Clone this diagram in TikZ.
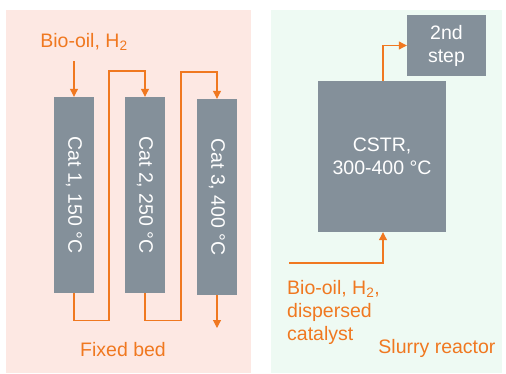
\documentclass[tikz,border=0pt]{standalone}
\usepackage{fontspec}
\setmainfont{Liberation Sans}
\usepackage{xcolor}
\usepackage{tikz}
\usetikzlibrary{arrows.meta,positioning,calc}
\definecolor{bedbg}{HTML}{FDE8E3}
\definecolor{slurrybg}{HTML}{EEFAF3}
\definecolor{reactgray}{HTML}{84909A}
\definecolor{flowor}{HTML}{F07820}
\tikzset{
  % reactor boxes
  reactor/.style={draw=none,fill=reactgray,text=white,inner sep=0pt,align=center},
  % flow lines
  flow/.style={flowor,line width=1.1pt,-{Triangle[length=8pt,width=8pt]}},
  flowplain/.style={flowor,line width=1.1pt},
  % orange labels
  olbl/.style={text=flowor,inner sep=0pt},
}

\begin{document}
\begin{tikzpicture}[
  x=1pt,y=-1pt,
  every node/.style={font=\fontsize{19.5}{23}\selectfont},
]
\useasboundingbox (0,0) rectangle (506,373);
%% ===== panels =====
\fill[bedbg] (6,10) rectangle (251,373);
\fill[slurrybg] (271,10) rectangle (502,373);

%% ===== fixed bed =====
\node[reactor,rotate=-90,minimum width=196pt,minimum height=40pt] (c1) at (74,195) {Cat 1, 150 °C};
\node[reactor,rotate=-90,minimum width=196pt,minimum height=40pt] (c2) at (145,195) {Cat 2, 250 °C};
\node[reactor,rotate=-90,minimum width=196pt,minimum height=40pt] (c3) at (217,197) {Cat 3, 400 °C};

\node[olbl] (feedA) at (84,42) {Bio-oil, H\textsubscript{2}};
\coordinate (inA) at (74,61);
\coordinate (outA) at (217,328);
\draw[flow] (inA) -- (c1.west);
\draw[flow] (c1.east) -- ++(0,27) -| (109,71) -| (c2.west);
\draw[flow] (c2.east) -- ++(0,27) -| (181,72) -| (c3.west);
\draw[flow] (c3.east) -- (outA);

\node[olbl] (bedlbl) at (123,350) {Fixed bed};

%% ===== slurry reactor =====
\node[reactor,minimum width=128pt,minimum height=151pt] (cstr) at (382,156.5) {CSTR,\\300-400 °C};
\node[reactor,minimum width=79pt,minimum height=61pt] (step2) at (446.5,45.5) {2nd\\step};

\coordinate (inB) at (289,263);
\draw[flow] (cstr.north -| 383,0) |- (step2.west);
\draw[flow] (inB) -| (cstr.south -| 383,0);

\node[olbl,anchor=north west,align=left] (feedB) at (287,280) {Bio-oil, H\textsubscript{2},\\dispersed\\catalyst};
\node[olbl] (slurrylbl) at (437,348) {Slurry reactor};
\end{tikzpicture}
\end{document}
